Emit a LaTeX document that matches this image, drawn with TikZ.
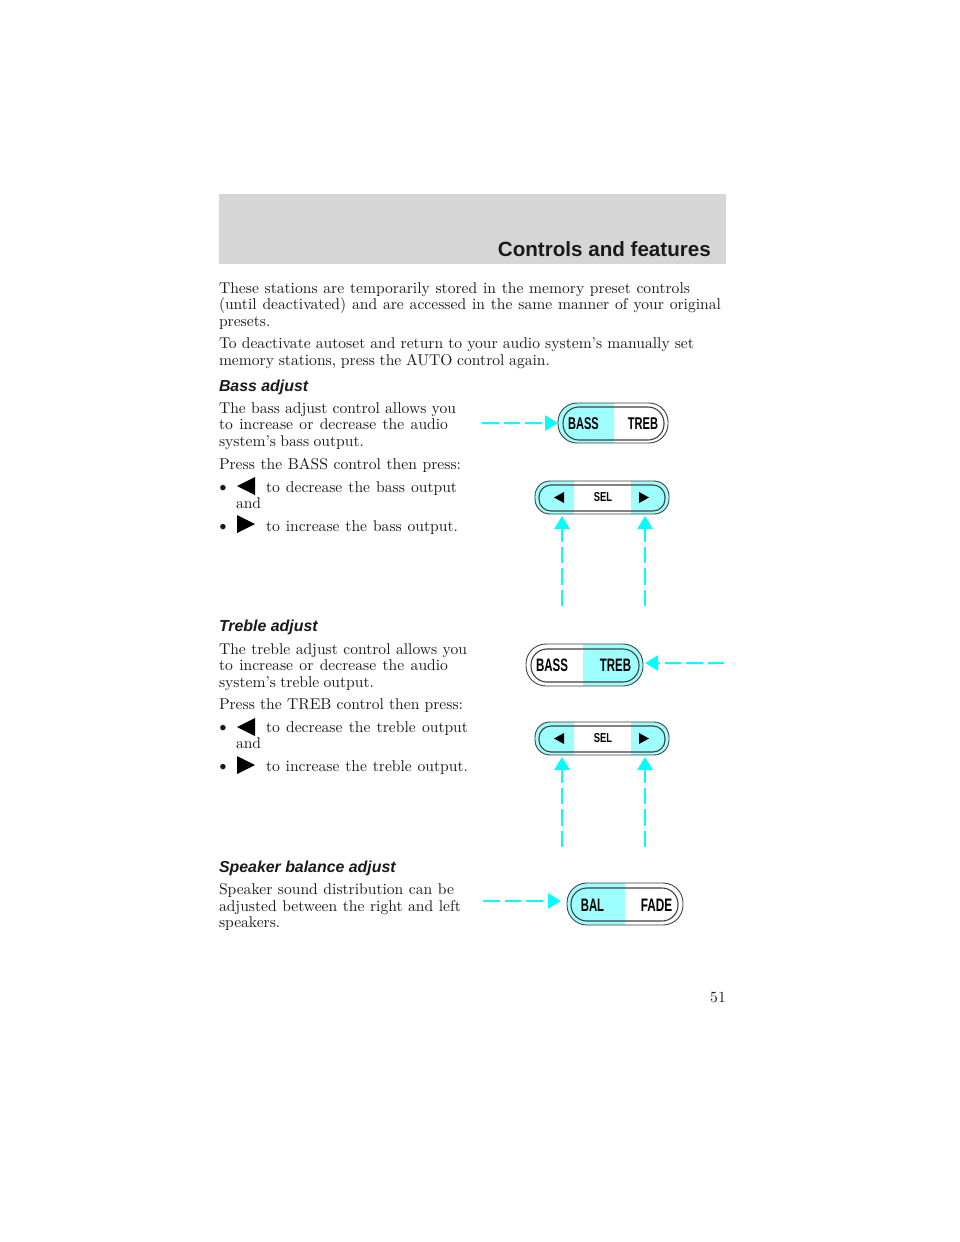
\documentclass[tikz,border=0pt]{standalone}
\usepackage{fontspec}
\usepackage{graphicx}
\usetikzlibrary{arrows.meta}
\newfontfamily\lsans{Liberation Sans}
\definecolor{pale}{HTML}{9FFFFF}
\definecolor{aqua}{HTML}{00FFFF}
\definecolor{band}{HTML}{D6D6D6}
\definecolor{ink}{HTML}{1A1A1A}
\tikzset{
  x=1pt,y=-1pt,
  body/.style={anchor=base west,inner sep=0pt,outer sep=0pt,text=ink},
  dot/.style={anchor=center,inner sep=0pt,outer sep=0pt,text=ink},
  head/.style={anchor=base west,inner sep=0pt,outer sep=0pt,text=ink,font=\lsans\bfseries\itshape\fontsize{15.9}{16}\selectfont},
  btn/.style={inner sep=0pt,outer sep=0pt,text=black,font=\lsans\bfseries\fontsize{17}{17}\selectfont},
  btnb/.style={inner sep=0pt,outer sep=0pt,text=black,font=\lsans\bfseries\fontsize{18}{18}\selectfont},
  btns/.style={inner sep=0pt,outer sep=0pt,text=black,font=\lsans\bfseries\fontsize{13}{13}\selectfont},
  ptr/.style={aqua,line width=2.6pt,dash pattern=on 16.5pt off 5pt,-{Triangle[length=13pt,width=15pt,fill=aqua]}},
  rim/.style={draw=black!75,line width=0.9pt,fill=none},
  tri/.style={fill=black,draw=none},
}
\newcommand{\bodytext}[1]{\scalebox{1.56}{\fontsize{10}{12}\selectfont #1}}
% name, x, y, width in picture units, text (spaces stretch to fill the width)
\newcommand{\tl}[5]{\node[body] (#1) at (#2,#3) {\scalebox{1.56}{\fontsize{10}{12}\selectfont\hbox to \dimexpr #4pt*100/156\relax{#5}}};}
\newcommand{\dotmark}[3]{\node[dot] (#1) at (#2,#3) {\scalebox{1.9}{\fontsize{10}{12}\selectfont\textbullet}};}
\begin{document}
\begin{tikzpicture}
\useasboundingbox (0,0) rectangle (960,1242);
\fill[white] (0,0) rectangle (960,1242);
\fill[band] (219,194) rectangle (726,264);
\node[anchor=base east,inner sep=0pt,text=ink,font=\lsans\bfseries\fontsize{20.6}{21}\selectfont] (title) at (711,256) {Controls and features};

\tl{a1}{219}{293}{471}{These stations are temporarily stored in the memory preset controls}
\tl{a2}{219}{309.5}{502}{(until deactivated) and are accessed in the same manner of your original}
\node[body] (a3) at (219,326) {\bodytext{presets.}};
\tl{a4}{219}{348}{475}{To deactivate autoset and return to your audio system’s manually set}
\tl{a5}{219}{365}{331}{memory stations, press the AUTO control again.}
\node[head] (h1) at (219,391) {Bass adjust};
\tl{b1}{219}{413}{237}{The bass adjust control allows you}
\tl{b2}{219}{429.5}{229}{to increase or decrease the audio}
\tl{b3}{219}{446}{145}{system’s bass output.}
\tl{b4}{219}{469}{242}{Press the BASS control then press:}
\dotmark{b5}{223}{488.5}
\tl{b6}{266}{492}{191}{to decrease the bass output}
\node[body] (b7) at (236,508) {\bodytext{and}};
\dotmark{b8}{223}{527.5}
\tl{b9}{266}{531}{192}{to increase the bass output.}
\fill[tri] (237,486) -- (255,477) -- (255,495) -- cycle;
\fill[tri] (237,515) -- (255,524) -- (237,533) -- cycle;

\node[head] (h2) at (219,631) {Treble adjust};
\tl{c1}{219}{654}{248}{The treble adjust control allows you}
\tl{c2}{219}{670}{229}{to increase or decrease the audio}
\tl{c3}{219}{687}{155}{system’s treble output.}
\tl{c4}{219}{709}{244}{Press the TREB control then press:}
\dotmark{c5}{223}{729}
\tl{c6}{266}{732}{202}{to decrease the treble output}
\node[body] (c7) at (236,748) {\bodytext{and}};
\dotmark{c8}{223}{768}
\tl{c9}{266}{771}{202}{to increase the treble output.}
\fill[tri] (237,727) -- (255,718) -- (255,736) -- cycle;
\fill[tri] (237,756) -- (255,765) -- (237,774) -- cycle;

\node[head] (h3) at (219,872) {Speaker balance adjust};
\tl{d1}{219}{894}{235}{Speaker sound distribution can be}
\tl{d2}{219}{911}{242}{adjusted between the right and left}
\node[body] (d3) at (219,927) {\bodytext{speakers.}};
\node[anchor=base east,inner sep=0pt,text=ink] (pg) at (726,1002) {\bodytext{51}};

% BASS / TREB (bass lit)
\begin{scope}
  \clip (558,403) rectangle (614,443);
  \fill[pale,rounded corners=19pt] (558,403) rectangle (668,443);
\end{scope}
\draw[rim,rounded corners=19pt] (558,403) rectangle (668,443);
\draw[rim,rounded corners=16pt,line width=1.1pt] (563,407) rectangle (664,440);
\node[btn] (bass1) at (583.5,423.5) {\scalebox{0.65}[1]{BASS}};
\node[btn] (treb1) at (643,423.5) {\scalebox{0.65}[1]{TREB}};

% SEL upper
\begin{scope}
  \clip (535,481) rectangle (574,514);
  \fill[pale,rounded corners=15pt] (535,481) rectangle (669,514);
\end{scope}
\begin{scope}
  \clip (631,481) rectangle (669,514);
  \fill[pale,rounded corners=15pt] (535,481) rectangle (669,514);
\end{scope}
\draw[rim,rounded corners=15pt] (535,481) rectangle (669,514);
\draw[rim,rounded corners=12pt,line width=1.1pt] (539,485) rectangle (665,511);
\fill[tri] (554,497.5) -- (564,492) -- (564,503) -- cycle;
\fill[tri] (639,492) -- (649,497.5) -- (639,503) -- cycle;
\node[btns] (sel1) at (603,497.5) {\scalebox{0.72}[1]{SEL}};

% BASS / TREB (treb lit)
\begin{scope}
  \clip (583,644) rectangle (643,686);
  \fill[pale,rounded corners=20pt] (526,644) rectangle (643,686);
\end{scope}
\draw[rim,rounded corners=20pt] (526,644) rectangle (643,686);
\draw[rim,rounded corners=16pt,line width=1.1pt] (531,649) rectangle (639,682);
\node[btnb] (bass2) at (552,665.5) {\scalebox{0.64}[1]{BASS}};
\node[btnb] (treb2) at (615.5,665.5) {\scalebox{0.635}[1]{TREB}};

% SEL lower
\begin{scope}
  \clip (535,722) rectangle (574,755);
  \fill[pale,rounded corners=15pt] (535,722) rectangle (669,755);
\end{scope}
\begin{scope}
  \clip (631,722) rectangle (669,755);
  \fill[pale,rounded corners=15pt] (535,722) rectangle (669,755);
\end{scope}
\draw[rim,rounded corners=15pt] (535,722) rectangle (669,755);
\draw[rim,rounded corners=12pt,line width=1.1pt] (539,726) rectangle (665,752);
\fill[tri] (554,738.5) -- (564,733) -- (564,744) -- cycle;
\fill[tri] (639,733) -- (649,738.5) -- (639,744) -- cycle;
\node[btns] (sel2) at (603,738.5) {\scalebox{0.72}[1]{SEL}};

% BAL / FADE
\begin{scope}
  \clip (567,883) rectangle (625,925);
  \fill[pale,rounded corners=20pt] (567,883) rectangle (683,925);
\end{scope}
\draw[rim,rounded corners=20pt] (567,883) rectangle (683,925);
\draw[rim,rounded corners=16pt,line width=1.1pt] (571,888) rectangle (678,921);
\node[btnb] (bal) at (592.5,905) {\scalebox{0.63}[1]{BAL}};
\node[btnb] (fade) at (656.5,905) {\scalebox{0.655}[1]{FADE}};

% pointers
\coordinate (p1s) at (482,423); \coordinate (p1e) at (558,423);
\coordinate (p2s) at (562,606); \coordinate (p2e) at (562,516);
\coordinate (p3s) at (645,606); \coordinate (p3e) at (645,516);
\coordinate (p4s) at (724,663); \coordinate (p4e) at (645,663);
\coordinate (p5s) at (562,847); \coordinate (p5e) at (562,757);
\coordinate (p6s) at (645,847); \coordinate (p6e) at (645,757);
\coordinate (p7s) at (483,901); \coordinate (p7e) at (561,901);
\foreach \i in {1,...,7} \draw[ptr] (p\i s) -- (p\i e);
\end{tikzpicture}
\end{document}
